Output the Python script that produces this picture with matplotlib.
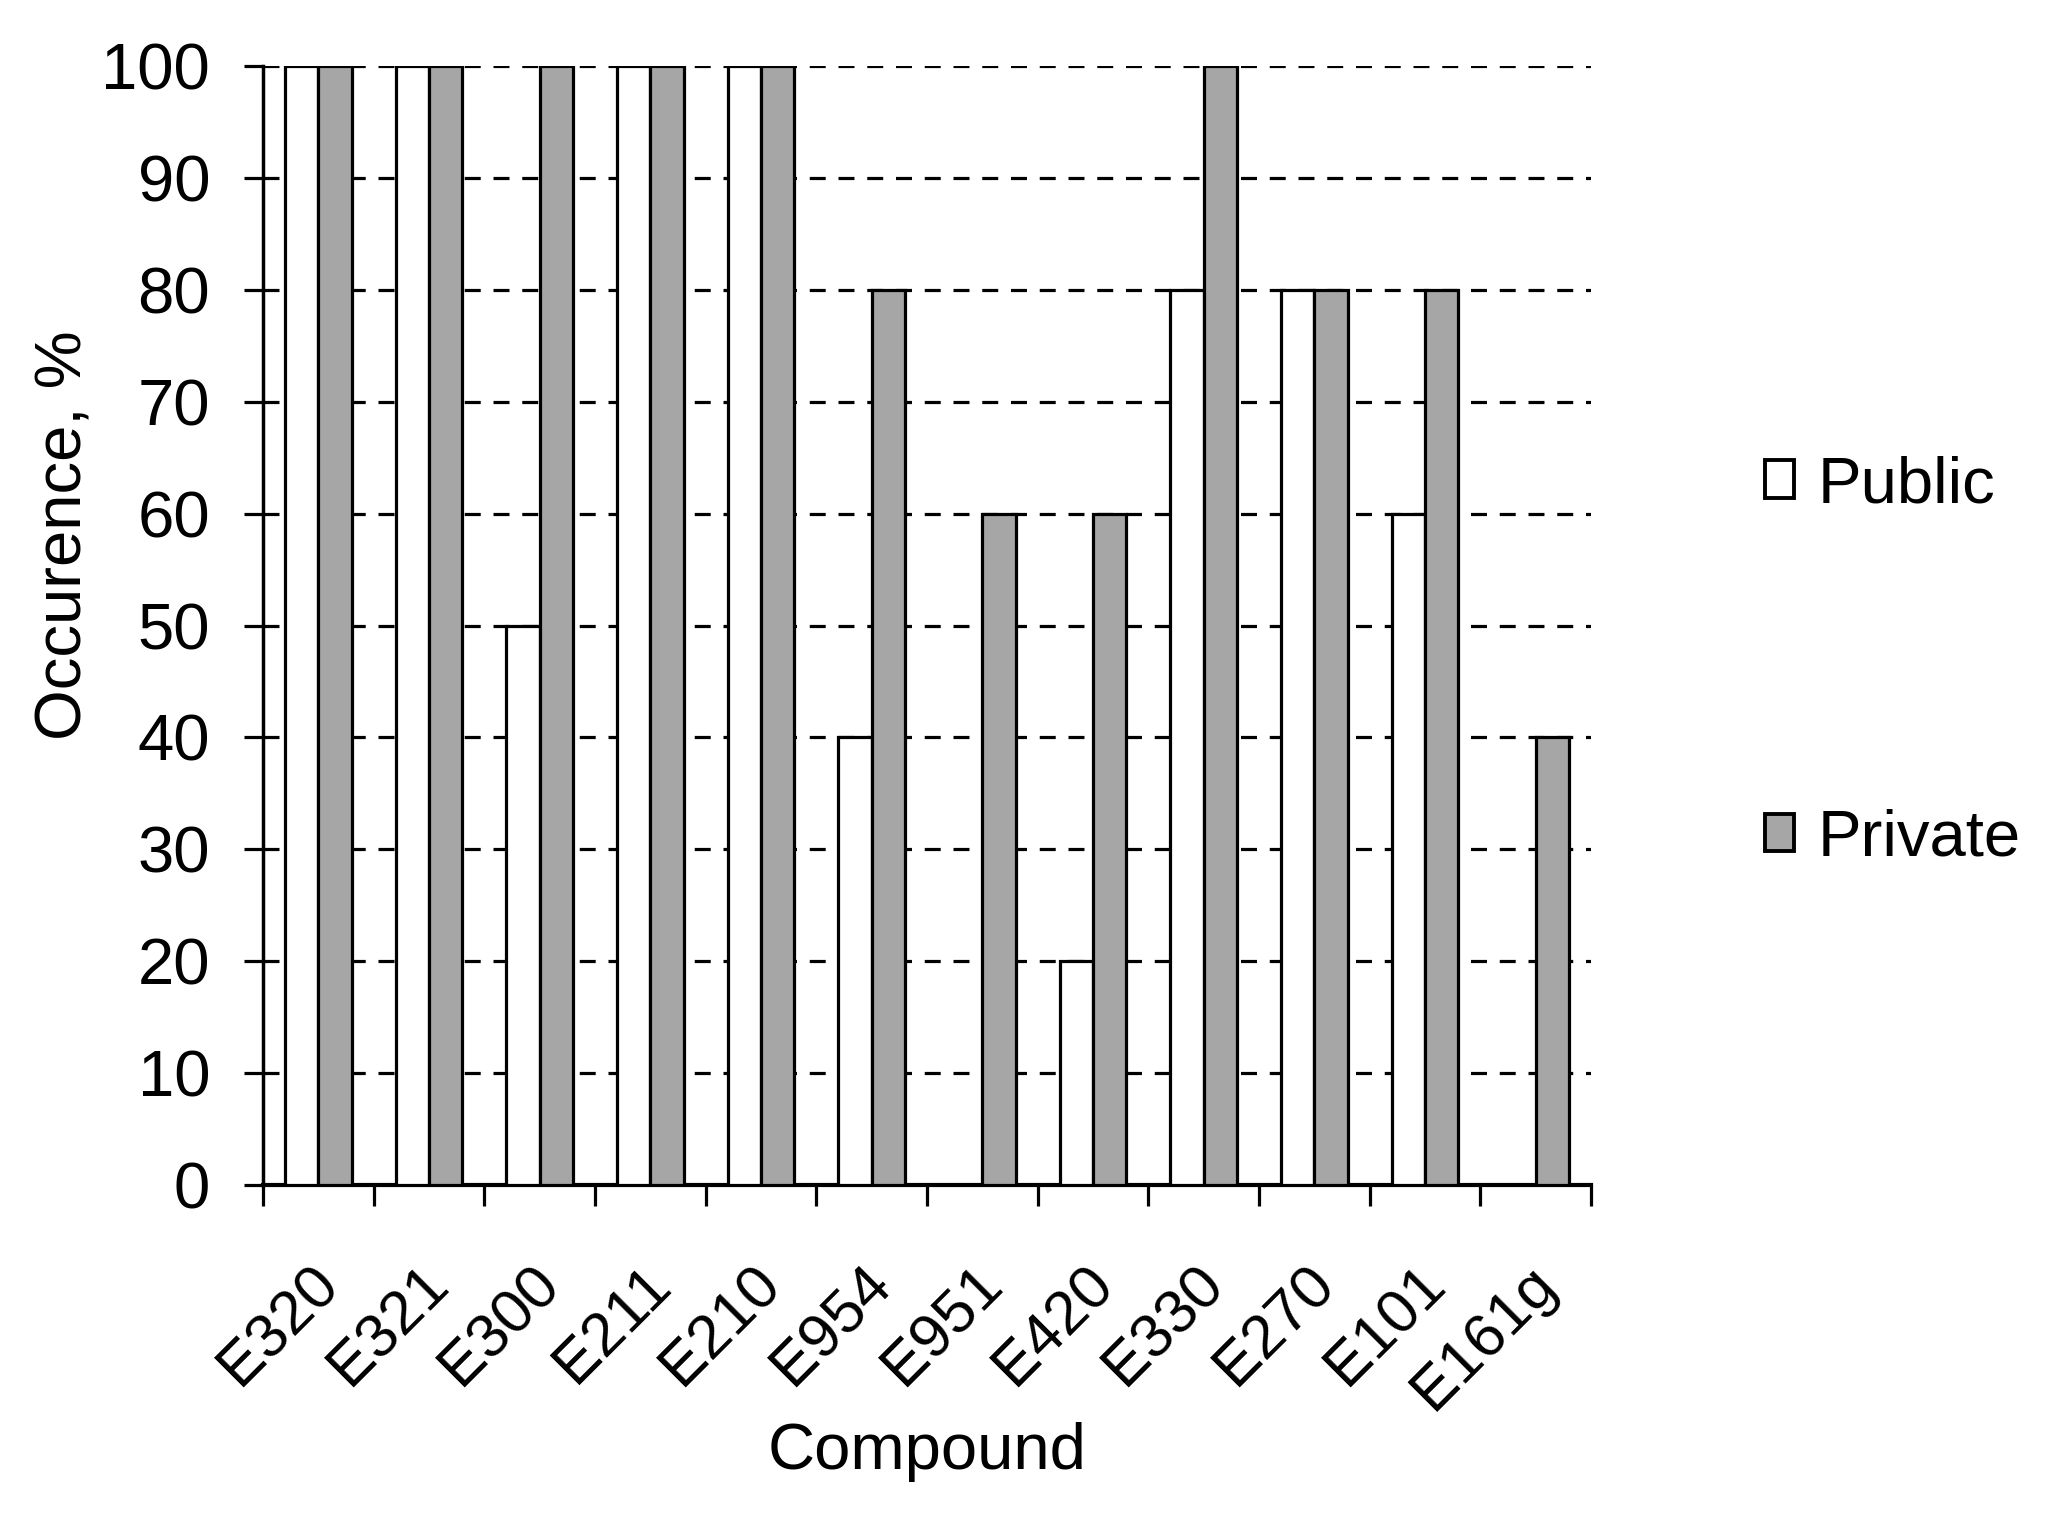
import matplotlib
matplotlib.use("Agg")
import matplotlib.pyplot as plt
import matplotlib.transforms as mtransforms
from matplotlib.patches import Patch
import numpy as np

plt.rcParams['font.family'] = ['Liberation Sans', 'DejaVu Sans']

compounds = ["E320", "E321", "E300", "E211", "E210", "E954", "E951",
             "E420", "E330", "E270", "E101", "E161g"]
public = [100, 100, 50, 100, 100, 40, 0, 20, 80, 80, 60, 0]
private = [100, 100, 100, 100, 100, 80, 60, 60, 100, 80, 80, 40]
series_names = ["Public", "Private"]
yticks = [0, 10, 20, 30, 40, 50, 60, 70, 80, 90, 100]

FS = 47
FS_X = 44
GRAY = "#a6a6a6"

fig = plt.figure(figsize=(20.57, 15.13), dpi=100)
W, H = 2057, 1513
left, right, top, bottom = 263, 1591, 66, 1185
ax = fig.add_axes([left / W, 1 - bottom / H, (right - left) / W, (bottom - top) / H])

n = len(compounds)
centers = np.arange(n) + 0.5
bw = 0.3
ax.bar(centers - bw / 2, public, width=bw, color="white", edgecolor="black",
       linewidth=2.3, zorder=3, label=series_names[0])
ax.bar(centers + bw / 2, private, width=bw, color=GRAY, edgecolor="black",
       linewidth=2.3, zorder=3, label=series_names[1])

ax.set_xlim(0, n)
ax.set_ylim(0, 100)
ax.set_yticks(yticks)
ax.set_yticklabels([str(v) for v in yticks], fontsize=FS)
ax.yaxis.grid(True, color="black", linestyle=(0, (5, 4)), linewidth=2.3, zorder=0)
ax.set_axisbelow(True)

ax.set_xticks(np.arange(n + 1))
ax.set_xticklabels([])
ax.set_xticks(centers, minor=True)
ax.set_xticklabels(compounds, minor=True, fontsize=FS_X, rotation=45,
                   ha="right", va="top", rotation_mode="anchor")
ax.tick_params(axis="x", which="minor", length=0, pad=51)
ax.tick_params(axis="x", which="major", direction="out", length=15, width=2.3)
ax.tick_params(axis="y", direction="out", length=14, width=2.3, pad=24)

offset = mtransforms.ScaledTranslation(-9 / 100, 0, fig.dpi_scale_trans)
for lab in ax.get_xticklabels(minor=True):
    lab.set_transform(lab.get_transform() + offset)

for s in ["top", "right"]:
    ax.spines[s].set_visible(False)
ax.spines["left"].set_linewidth(2.5)
ax.spines["bottom"].set_linewidth(3)

ax.set_xlabel("Compound", fontsize=FS)
ax.xaxis.set_label_coords(0.5, -0.212)
ax.set_ylabel("Occurence, %", fontsize=FS)
ax.yaxis.set_label_coords(-0.127, 0.581)

handles = [Patch(facecolor="white", edgecolor="black", linewidth=2.8),
           Patch(facecolor=GRAY, edgecolor="black", linewidth=2.8)]
fig.legend(handles, series_names, loc="center left",
           bbox_to_anchor=(1765 / W, 1 - 662 / H), frameon=False,
           fontsize=FS, labelspacing=4.5, handlelength=0.45,
           handleheight=0.5, handletextpad=0.35, borderpad=0, borderaxespad=0)

fig.savefig("out.png", dpi=100)
